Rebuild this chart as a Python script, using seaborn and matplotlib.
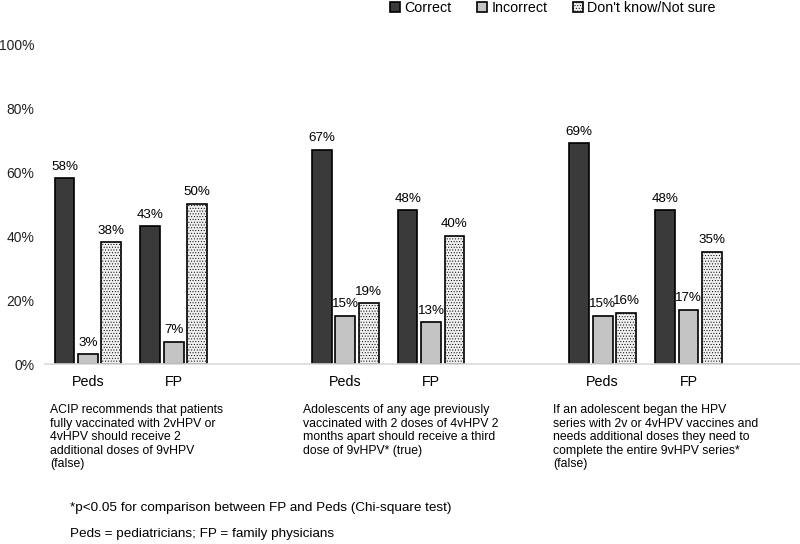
import matplotlib
matplotlib.use("Agg")
import matplotlib.pyplot as plt
import seaborn as sns
import pandas as pd

# ---- data ----
responses = ["Correct", "Incorrect", "Don't know/Not sure"]
groups = ["Peds", "FP"]
q1_peds = [58, 3, 38]
q1_fp = [43, 7, 50]
q2_peds = [67, 15, 19]
q2_fp = [48, 13, 40]
q3_peds = [69, 15, 16]
q3_fp = [48, 17, 35]
y_ticks = [0, 20, 40, 60, 80, 100]
descriptions = [
    "ACIP recommends that patients\nfully vaccinated with 2vHPV or\n4vHPV should receive 2\nadditional doses of 9vHPV\n(false)",
    "Adolescents of any age previously\nvaccinated with 2 doses of 4vHPV 2\nmonths apart should receive a third\ndose of 9vHPV* (true)",
    "If an adolescent began the HPV\nseries with 2v or 4vHPV vaccines and\nneeds additional doses they need to\ncomplete the entire 9vHPV series*\n(false)",
]
footnote1 = "*p<0.05 for comparison between FP and Peds (Chi-square test)"
footnote2 = "Peds = pediatricians; FP = family physicians"

series = [("Q1", "Peds", q1_peds), ("Q1", "FP", q1_fp),
          ("Q2", "Peds", q2_peds), ("Q2", "FP", q2_fp),
          ("Q3", "Peds", q3_peds), ("Q3", "FP", q3_fp)]
rows = []
for q, g, vals in series:
    for r, v in zip(responses, vals):
        rows.append({"slot": f"{q}-{g}", "response": r, "value": v})
df = pd.DataFrame(rows)
order = ["Q1-Peds", "Q1-FP", "gap1", "Q2-Peds", "Q2-FP", "gap2", "Q3-Peds", "Q3-FP"]

plt.rcParams["font.family"] = ["Liberation Sans", "DejaVu Sans"]
plt.rcParams["hatch.linewidth"] = 0.4
fig = plt.figure(figsize=(8, 5.44), dpi=100)
ax = fig.add_axes([45 / 800, 1 - 364 / 544, 1 - 45 / 800, (364 - 44) / 544])

palette = {"Correct": "#3a3a3a", "Incorrect": "#c4c4c4", "Don't know/Not sure": "#f0f0f0"}
sns.barplot(data=df, x="slot", y="value", hue="response", order=order,
            hue_order=responses, palette=palette, width=0.82, gap=0.16,
            edgecolor="black", linewidth=1.2, saturation=1, ax=ax, legend=True)

for p in ax.containers[2].patches:
    p.set_hatch("......")
for c in ax.containers:
    labels = [f"{int(round(v))}%" if v == v else "" for v in c.datavalues]
    ax.bar_label(c, labels=labels, padding=4, fontsize=9.6)

ax.set_ylim(0, 100)
ax.set_xlim(-0.5, 8.3)
ax.set_yticks(y_ticks)
ax.set_yticklabels([f"{t}%" for t in y_ticks], fontsize=10, color="#222222")
ax.set_xticks(range(len(order)))
ax.set_xticklabels(["Peds", "FP", "", "Peds", "FP", "", "Peds", "FP"], fontsize=10.3)
ax.tick_params(axis="both", length=0)
ax.tick_params(axis="y", pad=7.5)
ax.tick_params(axis="x", pad=8)
ax.set_xlabel("")
ax.set_ylabel("")
for s in ["top", "right", "left"]:
    ax.spines[s].set_visible(False)
ax.spines["bottom"].set_color("#d9d9d9")
ax.spines["bottom"].set_linewidth(1.2)

handles, labels = ax.get_legend_handles_labels()
ax.get_legend().remove()
leg = fig.legend(handles, labels, loc="upper center", bbox_to_anchor=(0.691, 1.022), ncol=3,
                 frameon=False, fontsize=10.3, handlelength=0.7, handleheight=0.7,
                 handletextpad=0.3, columnspacing=1.8)
leg.legend_handles[2].set_hatch("......")

for x, txt in zip([50, 303, 553], descriptions):
    fig.text(x / 800, 1 - 404 / 544, txt, ha="left", va="top", fontsize=8.8, linespacing=1.18)
fig.text(70 / 800, 1 - 508 / 544, footnote1, ha="left", va="center", fontsize=9.7)
fig.text(70 / 800, 1 - 534 / 544, footnote2, ha="left", va="center", fontsize=9.7)

fig.savefig("out.png", dpi=100)
